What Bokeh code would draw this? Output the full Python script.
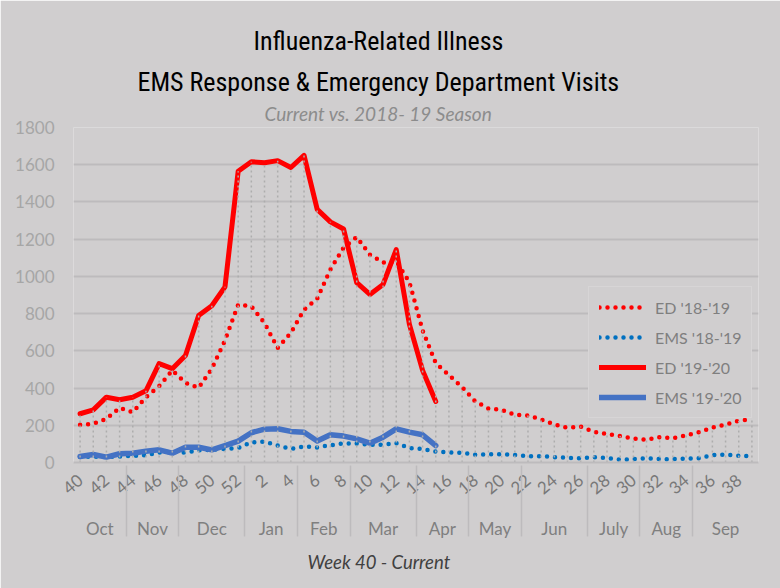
from bokeh.plotting import figure
from bokeh.models import (FactorRange, Range1d, Legend, LegendItem, Title,
                          ColumnDataSource, FixedTicker, CustomJSTickFormatter)
from bokeh.embed import file_html
from bokeh.resources import INLINE

# ---------------- data ----------------
months = ["Oct", "Nov", "Dec", "Jan", "Feb", "Mar", "Apr", "May", "Jun", "July", "Aug", "Sep"]
weeks_per_month = [4, 4, 5, 4, 4, 5, 4, 4, 5, 4, 4, 5]
weeks = [40, 41, 42, 43, 44, 45, 46, 47, 48, 49, 50, 51, 52,
         1, 2, 3, 4, 5, 6, 7, 8, 9, 10, 11, 12, 13, 14, 15, 16, 17, 18, 19, 20,
         21, 22, 23, 24, 25, 26, 27, 28, 29, 30, 31, 32, 33, 34, 35, 36, 37, 38, 39]

ed_1819 = [203, 208, 235, 294, 270, 351, 410, 495, 428, 401, 504, 656, 848,
           839, 749, 615, 697, 821, 880, 1037, 1154, 1211, 1117, 1075, 1080, 969,
           710, 534, 470, 405, 328, 290, 283, 256, 253, 231, 204, 186, 193, 165,
           153, 142, 129, 122, 136, 131, 145, 163, 188, 203, 224, 233]
ems_1819 = [29, 32, 29, 32, 36, 39, 54, 57, 54, 65, 68, 73, 78,
            108, 113, 91, 73, 86, 81, 93, 102, 102, 95, 95, 104, 77,
            73, 59, 54, 52, 41, 45, 45, 41, 34, 34, 29, 25, 22, 28,
            25, 15, 18, 23, 18, 18, 20, 23, 40, 42, 36, 33]
ed_1920 = [262, 283, 351, 337, 351, 385, 531, 504, 575, 790, 842, 944, 1565,
           1616, 1611, 1622, 1585, 1650, 1360, 1293, 1255, 966, 903, 957, 1144, 742,
           495, 328]
ems_1920 = [32, 43, 29, 47, 50, 61, 68, 50, 82, 82, 68, 91, 115,
            160, 179, 181, 167, 163, 115, 149, 142, 127, 104, 136, 181, 163,
            149, 91]

series_labels = ["ED '18-'19", "EMS '18-'19", "ED '19-'20", "EMS '19-'20"]
y_ticks = [0, 200, 400, 600, 800, 1000, 1200, 1400, 1600, 1800]

title_1 = "Influenza-Related Illness"
title_2 = "EMS Response & Emergency Department Visits"
subtitle = "Current vs. 2018- 19 Season"
x_title = "Week 40 - Current"

# ---------------- build ----------------
BG = "#D0CECF"
FONT = "Lato"
TFONT = "Roboto Condensed"

factors = []
k = 0
for m, n in zip(months, weeks_per_month):
    for _ in range(n):
        factors.append((m, str(weeks[k])))
        k += 1

x_range = FactorRange(factors=factors, factor_padding=0, group_padding=0,
                      subgroup_padding=0, range_padding=0)

p = figure(width=780, height=588, x_range=x_range, y_range=Range1d(0, 1800),
           output_backend="svg", toolbar_location=None,
           min_border_left=73, min_border_right=22, min_border_top=127,
           min_border_bottom=126,
           background_fill_color=BG, border_fill_color=BG, outline_line_color=None)

src_1819 = ColumnDataSource(dict(x=factors, ed=ed_1819, ems=ems_1819))
n20 = len(ed_1920)
src_1920 = ColumnDataSource(dict(x=factors[:n20], ed=ed_1920, ems=ems_1920))

r1 = p.line("x", "ed", source=src_1819, line_color="#FF0000", line_width=4.5,
            line_dash="0 8", line_cap="round", line_join="round")
r2 = p.line("x", "ems", source=src_1819, line_color="#0070C0", line_width=4.5,
            line_dash="0 8", line_cap="round", line_join="round")
r3 = p.line("x", "ed", source=src_1920, line_color="#FF0000", line_width=5,
            line_cap="round", line_join="round")
r4 = p.line("x", "ems", source=src_1920, line_color="#4472C4", line_width=5.5,
            line_cap="round", line_join="round")

# drop lines from the highest series value down to the axis
tops = []
for i in range(len(factors)):
    vals = [ed_1819[i], ems_1819[i]]
    if i < n20:
        vals += [ed_1920[i], ems_1920[i]]
    tops.append(max(vals))
drop_src = ColumnDataSource(dict(x=factors, top=tops, zero=[0] * len(factors)))
p.segment(x0="x", y0="zero", x1="x", y1="top", source=drop_src,
          line_color="#ADADAD", line_width=1.5, line_dash="2 3")

# axes
xa = p.xaxis[0]
xa.formatter = CustomJSTickFormatter(code="return (parseInt(tick) % 2 === 0) ? tick : '';")
xa.major_label_orientation = 0.7
xa.major_label_text_font = FONT
xa.major_label_text_font_size = "17px"
xa.major_label_text_color = "#787878"
xa.major_label_standoff = 15
xa.group_text_font = FONT
xa.group_text_font_style = "normal"
xa.group_text_font_size = "17px"
xa.group_text_color = "#7F7F7F"
xa.separator_line_color = "#BDBBBD"
xa.separator_line_width = 1.5
xa.major_tick_line_color = None
xa.major_tick_out = 0
xa.major_tick_in = 0
xa.minor_tick_line_color = None
xa.axis_line_color = "#BDBBBD"
xa.axis_line_width = 2
p.xgrid.grid_line_color = None

ya = p.yaxis[0]
ya.ticker = FixedTicker(ticks=y_ticks)
ya.axis_line_color = None
ya.major_tick_line_color = None
ya.major_tick_out = 0
ya.major_tick_in = 0
ya.minor_tick_line_color = None
ya.major_label_text_font = FONT
ya.major_label_text_font_size = "17px"
ya.major_label_text_color = "#A6A6A6"
ya.major_label_standoff = 19
p.ygrid.grid_line_color = "#BDBBBD"
p.ygrid.grid_line_width = 2

# legend
legend = Legend(items=[LegendItem(label=series_labels[0], renderers=[r1]),
                       LegendItem(label=series_labels[1], renderers=[r2]),
                       LegendItem(label=series_labels[2], renderers=[r3]),
                       LegendItem(label=series_labels[3], renderers=[r4])],
                location=(515, 44), background_fill_color=BG, background_fill_alpha=1,
                border_line_color="#DEDCDE", border_line_width=1.5,
                label_text_font=FONT, label_text_font_size="16px",
                label_text_color="#7F7F7F", glyph_width=47, glyph_height=20,
                label_height=20, label_width=80, label_standoff=9, spacing=10,
                padding=10, margin=0)
p.add_layout(legend)

# titles: first added is closest to the frame (left-aligned, shifted by offset)
p.add_layout(Title(text=subtitle, align="left", offset=191, text_font=FONT,
                   text_font_style="italic", text_font_size="19px",
                   text_color="#8C8C8C", standoff=5), "above")
p.add_layout(Title(text=title_2, align="left", offset=64, text_font=TFONT,
                   text_font_style="normal", text_font_size="26px",
                   text_color="#000000", standoff=1), "above")
p.add_layout(Title(text=title_1, align="left", offset=180, text_font=TFONT,
                   text_font_style="normal", text_font_size="26px",
                   text_color="#000000", standoff=17), "above")

# x-axis title placed below the axis
p.add_layout(Title(text=x_title, align="left", offset=234, text_font=FONT,
                   text_font_style="italic", text_font_size="18.5px",
                   text_color="#404040", standoff=12), "below")

open("out.html", "w").write(file_html(p, INLINE))
